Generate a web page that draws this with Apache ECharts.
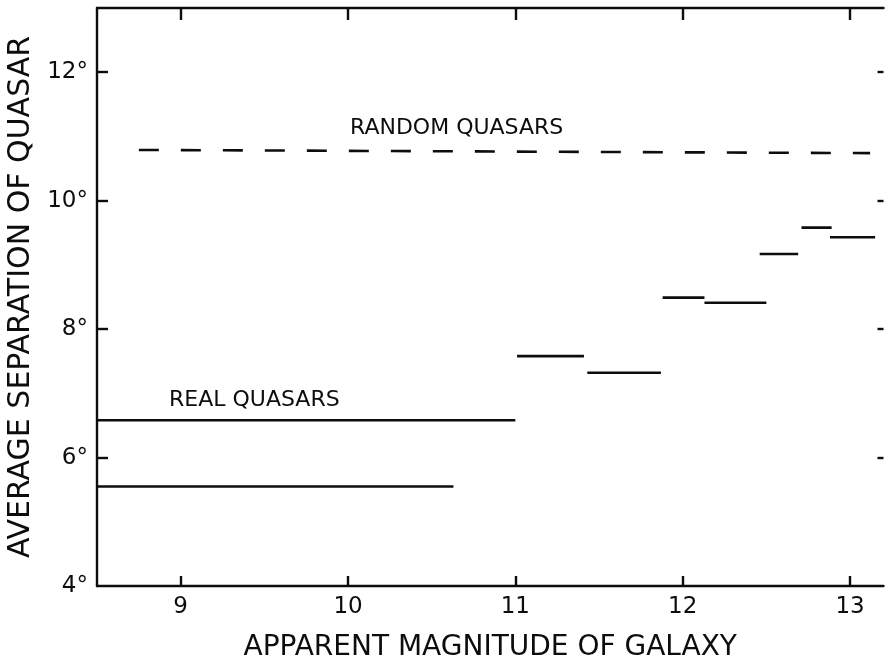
<!DOCTYPE html>
<html>
<head>
<meta charset="utf-8">
<script src="https://cdn.jsdelivr.net/npm/echarts@6/dist/echarts.min.js"></script>
<style>
html,body{margin:0;padding:0;background:#fff;}
#chart{width:886px;height:661px;}
</style>
</head>
<body>
<div id="chart"></div>
<script>
// Real quasars: horizontal segments (start magnitude, end magnitude, average separation in degrees)
const realStart = [8.5, 8.5, 11.01, 11.43, 11.88, 12.13, 12.46, 12.71, 12.88];
const realEnd   = [11.0, 10.63, 11.41, 11.87, 12.13, 12.50, 12.69, 12.89, 13.15];
const realSep   = [6.58, 5.55, 7.58, 7.32, 8.49, 8.41, 9.17, 9.58, 9.43];
// Random quasars: dashed line
const randomMag = [8.75, 13.12];
const randomSep = [10.79, 10.74];
// Tick values
const xTicks = [9, 10, 11, 12, 13];
const yTicks = [6, 8, 10, 12];
const yLabelTicks = [4, 6, 8, 10, 12];

const FONT = 'DejaVu Sans';
const INK = '#0d0d0d';

const series = [];
for (let i = 0; i < realSep.length; i++) {
  series.push({
    type: 'line', xAxisIndex: 0, yAxisIndex: 0,
    data: [[realStart[i], realSep[i]], [realEnd[i], realSep[i]]],
    symbol: 'none', silent: true,
    lineStyle: { color: INK, width: 2.6 }
  });
}
series.push({
  type: 'line', xAxisIndex: 0, yAxisIndex: 0,
  data: randomMag.map((m, i) => [m, randomSep[i]]),
  symbol: 'none', silent: true,
  lineStyle: { color: INK, width: 2.6, type: [20, 22] }
});

const chart = echarts.init(document.getElementById('chart'), null, { renderer: 'canvas' });
chart.setOption({
  animation: false,
  backgroundColor: '#fff',
  grid: { left: 97, right: 2.5, top: 8, bottom: 75, containLabel: false, outerBoundsMode: 'none' },
  xAxis: [
    {
      type: 'value', position: 'bottom', min: 8.5, max: 13.2,
      name: 'APPARENT MAGNITUDE OF GALAXY', nameLocation: 'middle', nameGap: 48,
      nameTextStyle: { fontFamily: FONT, fontSize: 28, color: INK },
      axisLine: { show: true, lineStyle: { color: INK, width: 2.4 } },
      axisTick: { show: true, inside: true, length: 10, customValues: xTicks, lineStyle: { color: INK, width: 2.4 } },
      axisLabel: { show: true, customValues: xTicks, margin: 10, fontFamily: FONT, fontSize: 23, color: INK },
      splitLine: { show: false }
    },
    {
      type: 'value', position: 'top', min: 8.5, max: 13.2,
      axisLine: { show: true, lineStyle: { color: INK, width: 2.4 } },
      axisTick: { show: true, inside: true, length: 12, customValues: xTicks, lineStyle: { color: INK, width: 2.4 } },
      axisLabel: { show: false },
      splitLine: { show: false }
    }
  ],
  yAxis: [
    {
      type: 'value', position: 'left', min: 4, max: 13,
      name: 'AVERAGE SEPARATION OF QUASAR', nameLocation: 'middle', nameGap: 61, nameRotate: 90,
      nameTextStyle: { fontFamily: FONT, fontSize: 30, color: INK },
      axisLine: { show: true, lineStyle: { color: INK, width: 2.4 } },
      axisTick: { show: true, inside: true, length: 11, customValues: yTicks, lineStyle: { color: INK, width: 2.4 } },
      axisLabel: { show: true, customValues: yLabelTicks, margin: 9, fontFamily: FONT, fontSize: 23, color: INK,
        formatter: v => v + '°' },
      splitLine: { show: false }
    },
    {
      type: 'value', position: 'right', min: 4, max: 13,
      axisLine: { show: false },
      axisTick: { show: true, inside: true, length: 6, customValues: yTicks, lineStyle: { color: INK, width: 2.4 } },
      axisLabel: { show: false },
      splitLine: { show: false }
    }
  ],
  graphic: [
    { type: 'text', left: 169, top: 389, silent: true,
      style: { text: 'REAL QUASARS', fontFamily: FONT, fontSize: 22, fill: INK } },
    { type: 'text', left: 350, top: 117, silent: true,
      style: { text: 'RANDOM QUASARS', fontFamily: FONT, fontSize: 22, fill: INK } }
  ],
  series: series
});
</script>
</body>
</html>
